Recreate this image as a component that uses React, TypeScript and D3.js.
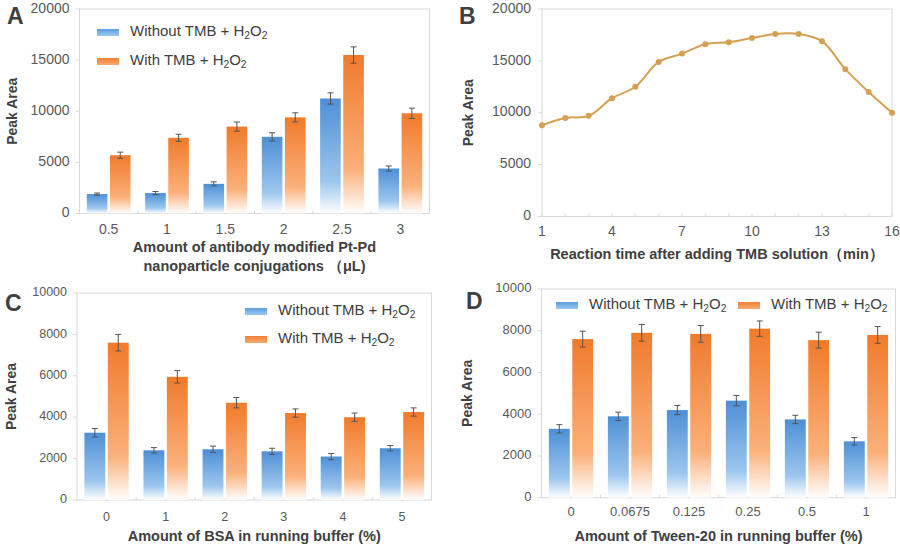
import React from "react";
import * as d3 from "d3";

// ---------- DATA ----------
const aCats = ["0.5", "1", "1.5", "2", "2.5", "3"];
const aWithout = [1900, 2000, 2900, 7500, 11250, 4400];
const aWithoutErr = [100, 150, 200, 400, 550, 250];
const aWith = [5700, 7400, 8500, 9400, 15500, 9800];
const aWithErr = [300, 350, 450, 450, 800, 500];
const aTicks = [0, 5000, 10000, 15000, 20000];

const bTimes = [1, 2, 3, 4, 5, 6, 7, 8, 9, 10, 11, 12, 13, 14, 15, 16];
const bValues = [8800, 9500, 9700, 11400, 12500, 14900, 15700, 16600, 16800, 17200, 17600, 17600, 16900, 14200, 12000, 10000];
const bXTicks = [1, 4, 7, 10, 13, 16];
const bYTicks = [0, 5000, 10000, 15000, 20000];

const cCats = ["0", "1", "2", "3", "4", "5"];
const cWithout = [3250, 2400, 2450, 2350, 2100, 2500];
const cWithoutErr = [200, 130, 150, 150, 150, 130];
const cWith = [7600, 5950, 4700, 4200, 4000, 4250];
const cWithErr = [400, 300, 250, 200, 200, 200];
const cTicks = [0, 2000, 4000, 6000, 8000, 10000];

const dCats = ["0", "0.0675", "0.125", "0.25", "0.5", "1"];
const dWithout = [3300, 3900, 4200, 4650, 3750, 2700];
const dWithoutErr = [200, 200, 220, 250, 200, 180];
const dWith = [7600, 7900, 7850, 8100, 7550, 7800];
const dWithErr = [380, 400, 400, 370, 380, 400];
const dTicks = [0, 2000, 4000, 6000, 8000, 10000];

const seriesNames = ["Without TMB + H", "With TMB + H"];

// ---------- STYLE ----------
const FONT = "'Liberation Sans', Arial, sans-serif";
const DARK = "#404040";
const TICKC = "#595959";
const BORDER = "#d9d9d9";

function Chem({ x, y, prefix, size, anchor = "start" }: any) {
  return (
    <text x={x} y={y} fontSize={size} fill={DARK} fontFamily={FONT} textAnchor={anchor} dominantBaseline="middle">
      {prefix}
      <tspan fontSize={size * 0.68} dy={size * 0.28}>2</tspan>
      <tspan dy={-size * 0.28}>O</tspan>
      <tspan fontSize={size * 0.68} dy={size * 0.28}>2</tspan>
    </text>
  );
}

function BarPanel(props: any) {
  const { left, right, top, bottom, cats, s1, e1, s2, e2, ticks, yMax, tickSize, xLabelY, letter, letterPos, yTitleX, xTitle, xTitleY, legend } = props;
  const x = d3.scaleBand().domain(cats).range([left, right]).paddingInner(0).paddingOuter(0);
  const y = d3.scaleLinear().domain([0, yMax]).range([bottom, top]);
  const bw = x.bandwidth();
  const group = bw * 0.75;
  const gap = 2.5;
  const barW = (group - gap) / 2;
  const series = [
    { vals: s1, errs: e1, grad: "gBlue", off: 0 },
    { vals: s2, errs: e2, grad: "gOrange", off: barW + gap },
  ];
  return (
    <g>
      <rect x={left} y={top} width={right - left} height={bottom - top} fill="none" stroke={BORDER} strokeWidth={1} />
      {ticks.map((t: number) => (
        <g key={t}>
          <line x1={left - 4} x2={left} y1={y(t)} y2={y(t)} stroke={BORDER} />
          <text x={left - 10} y={y(t)} textAnchor="end" dominantBaseline="middle" fontSize={tickSize} fill={TICKC} fontFamily={FONT}>{t}</text>
        </g>
      ))}
      {cats.map((c: string, i: number) => (
        <g key={c}>
          {i > 0 && <line x1={x(c)} x2={x(c)} y1={bottom} y2={bottom - 3} stroke={BORDER} />}
          <text x={(x(c) as number) + bw / 2} y={xLabelY} textAnchor="middle" dominantBaseline="middle" fontSize={tickSize} fill={TICKC} fontFamily={FONT}>{c}</text>
        </g>
      ))}
      {series.map((s, si) =>
        cats.map((c: string, i: number) => {
          const x0 = (x(c) as number) + (bw - group) / 2 + s.off;
          const v = s.vals[i];
          const e = s.errs[i];
          const cx = x0 + barW / 2;
          return (
            <g key={si + "-" + c}>
              <rect x={x0} y={y(v)} width={barW} height={bottom - y(v)} fill={`url(#${s.grad})`} />
              <line x1={cx} x2={cx} y1={y(v + e)} y2={y(v - e)} stroke="#555" strokeWidth={1} />
              <line x1={cx - 3} x2={cx + 3} y1={y(v + e)} y2={y(v + e)} stroke="#555" strokeWidth={1} />
              <line x1={cx - 3} x2={cx + 3} y1={y(v - e)} y2={y(v - e)} stroke="#555" strokeWidth={1} />
            </g>
          );
        })
      )}
      {legend.map((l: any, i: number) => (
        <g key={i}>
          <rect x={l.sx} y={l.sy - 3} width={22} height={7} fill={`url(#${i === 0 ? "gBlueL" : "gOrangeL"})`} />
          <Chem x={l.tx} y={l.sy} prefix={seriesNames[i]} size={l.size} />
        </g>
      ))}
      <text x={letterPos[0]} y={letterPos[1]} fontSize={23} fontWeight="bold" fill={DARK} fontFamily={FONT} dominantBaseline="middle">{letter}</text>
      <text transform={`translate(${yTitleX},${(top + bottom) / 2}) rotate(-90)`} textAnchor="middle" dominantBaseline="middle" fontSize={14} fontWeight="bold" fill={DARK} fontFamily={FONT}>Peak Area</text>
      {xTitle.map((t: string, i: number) => (
        <text key={i} x={(left + right) / 2} y={xTitleY + i * 19} textAnchor="middle" dominantBaseline="middle" fontSize={14.5} fontWeight="bold" fill={DARK} fontFamily={FONT}>{t}</text>
      ))}
    </g>
  );
}

function LinePanel() {
  const left = 542, right = 892, top = 9, bottom = 216.5;
  const x = d3.scaleLinear().domain([1, 16]).range([left, right]);
  const y = d3.scaleLinear().domain([0, 20000]).range([bottom, top]);
  const pts: [number, number][] = bTimes.map((t, i) => [x(t), y(bValues[i])]);
  const line = d3.line().curve(d3.curveCatmullRom.alpha(0.5))(pts) as string;
  const col = "#d6a052";
  return (
    <g>
      <rect x={left} y={top} width={right - left} height={bottom - top} fill="none" stroke={BORDER} />
      {bYTicks.map((t) => (
        <g key={t}>
          <line x1={left - 4} x2={left} y1={y(t)} y2={y(t)} stroke={BORDER} />
          <text x={left - 11} y={y(t)} textAnchor="end" dominantBaseline="middle" fontSize={14} fill={TICKC} fontFamily={FONT}>{t}</text>
        </g>
      ))}
      {bTimes.map((t) => (
        <line key={t} x1={x(t)} x2={x(t)} y1={bottom} y2={bottom - 3} stroke={BORDER} />
      ))}
      {bXTicks.map((t) => (
        <text key={t} x={x(t)} y={232} textAnchor="middle" dominantBaseline="middle" fontSize={14} fill={TICKC} fontFamily={FONT}>{t}</text>
      ))}
      <path d={line} fill="none" stroke={col} strokeWidth={2} />
      {pts.map((p, i) => (
        <circle key={i} cx={p[0]} cy={p[1]} r={3} fill={col} />
      ))}
      <text x={459} y={18} fontSize={23} fontWeight="bold" fill={DARK} fontFamily={FONT} dominantBaseline="middle">B</text>
      <text transform={`translate(469,${(top + bottom) / 2}) rotate(-90)`} textAnchor="middle" dominantBaseline="middle" fontSize={14} fontWeight="bold" fill={DARK} fontFamily={FONT}>Peak Area</text>
      <text x={717} y={255} textAnchor="middle" dominantBaseline="middle" fontSize={14.5} fontWeight="bold" fill={DARK} fontFamily={FONT}>Reaction time after adding TMB solution（min）</text>
    </g>
  );
}

export default function App() {
  return (
    <svg width={900} height={546} style={{ position: "absolute", left: 0, top: 0, background: "#fff" }}>
      <defs>
        <linearGradient id="gBlue" x1="0" y1="0" x2="0" y2="1">
          <stop offset="0" stopColor="#4d8fd6" />
          <stop offset="0.72" stopColor="#9cc6ee" />
          <stop offset="1" stopColor="#ffffff" />
        </linearGradient>
        <linearGradient id="gOrange" x1="0" y1="0" x2="0" y2="1">
          <stop offset="0" stopColor="#f07b2c" />
          <stop offset="0.72" stopColor="#fbb07a" />
          <stop offset="1" stopColor="#ffffff" />
        </linearGradient>
        <linearGradient id="gBlueL" x1="0" y1="0" x2="0" y2="1">
          <stop offset="0" stopColor="#5b9ee0" />
          <stop offset="1" stopColor="#9cc8f0" />
        </linearGradient>
        <linearGradient id="gOrangeL" x1="0" y1="0" x2="0" y2="1">
          <stop offset="0" stopColor="#f08035" />
          <stop offset="1" stopColor="#fba96e" />
        </linearGradient>
      </defs>
      <rect width={900} height={546} fill="#fff" />
      <BarPanel
        left={79.5} right={429.5} top={9} bottom={213.5}
        cats={aCats} s1={aWithout} e1={aWithoutErr} s2={aWith} e2={aWithErr}
        ticks={aTicks} yMax={20000} tickSize={14} xLabelY={230}
        letter="A" letterPos={[7, 18]} yTitleX={13}
        xTitle={["Amount of antibody modified Pt-Pd", "nanoparticle conjugations （μL)"]} xTitleY={248}
        legend={[{ sx: 97, sy: 32, tx: 130, size: 15 }, { sx: 97, sy: 61, tx: 130, size: 15 }]}
      />
      <LinePanel />
      <BarPanel
        left={77} right={431.5} top={293} bottom={500}
        cats={cCats} s1={cWithout} e1={cWithoutErr} s2={cWith} e2={cWithErr}
        ticks={cTicks} yMax={10000} tickSize={12.5} xLabelY={518}
        letter="C" letterPos={[5, 305]} yTitleX={12}
        xTitle={["Amount of BSA in running buffer (%)"]} xTitleY={537}
        legend={[{ sx: 245, sy: 311, tx: 278, size: 15 }, { sx: 245, sy: 339, tx: 278, size: 15 }]}
      />
      <BarPanel
        left={541.5} right={895.5} top={289} bottom={497.7}
        cats={dCats} s1={dWithout} e1={dWithoutErr} s2={dWith} e2={dWithErr}
        ticks={dTicks} yMax={10000} tickSize={13} xLabelY={513}
        letter="D" letterPos={[466, 303]} yTitleX={468}
        xTitle={["Amount of Tween-20 in running buffer (%)"]} xTitleY={537}
        legend={[{ sx: 556, sy: 305, tx: 589, size: 15 }, { sx: 738, sy: 305, tx: 771, size: 15 }]}
      />
    </svg>
  );
}
